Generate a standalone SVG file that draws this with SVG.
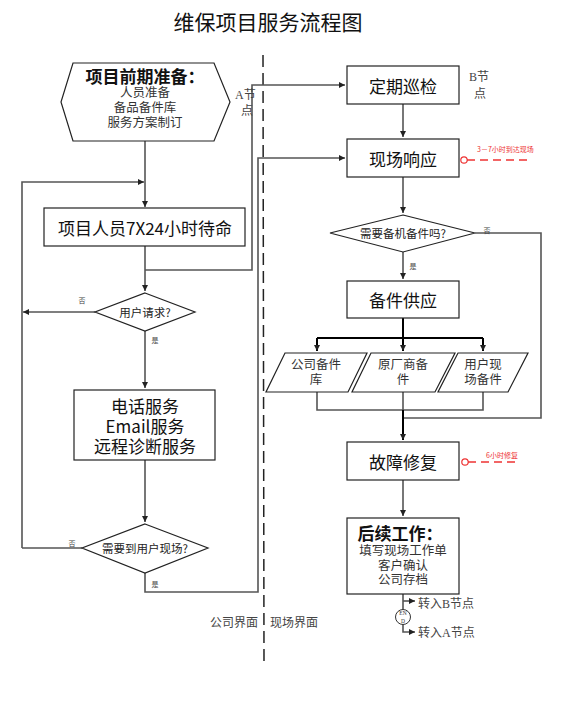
<svg xmlns="http://www.w3.org/2000/svg" width="563" height="719" viewBox="0 0 563 719">
<style>
.box{fill:#fff;stroke:#222;stroke-width:1.2}
.ln{fill:none;stroke:#555;stroke-width:1.6}
.lnb{fill:none;stroke:#000;stroke-width:2}
.big{font-family:"Noto Sans CJK SC","Liberation Sans",sans-serif;font-size:17px;fill:#111;text-anchor:middle;dominant-baseline:central}
.mid{font-family:"Liberation Serif","Noto Sans CJK SC",serif;font-size:12.5px;fill:#333;text-anchor:middle;dominant-baseline:central}
.dia{font-family:"Noto Sans CJK SC",sans-serif;font-size:11.5px;fill:#222;text-anchor:middle;dominant-baseline:central}
.sm{font-family:"Noto Sans CJK SC",sans-serif;font-size:7px;fill:#444;dominant-baseline:central}
.red{font-family:"Noto Sans CJK SC",sans-serif;font-size:7px;fill:#e33;dominant-baseline:central}
.note{font-family:"Liberation Serif","Noto Sans CJK SC",serif;font-size:12px;fill:#444;dominant-baseline:central}
</style>
<defs>
<marker id="ar" viewBox="0 0 8 8" refX="8" refY="4" markerWidth="6" markerHeight="6" markerUnits="userSpaceOnUse" orient="auto"><path d="M0,0 L8,4 L0,8 z" fill="#222"/></marker>
</defs>
<rect width="563" height="719" fill="#fff"/>
<text x="268" y="21" font-family="Noto Sans CJK SC,sans-serif" font-size="21" text-anchor="middle" dominant-baseline="central" fill="#111">维保项目服务流程图</text>

<line x1="263" y1="55" x2="264" y2="662" stroke="#222" stroke-width="1.5" stroke-dasharray="12,6"/>

<g id="connectors">
<path class="ln" d="M145,141 V207" marker-end="url(#ar)"/>
<path class="ln" d="M22,548 V182 H144" marker-end="url(#ar)"/>
<path class="ln" d="M145,246 V291" marker-end="url(#ar)"/>
<path class="ln" d="M145,270 H252 V85 H345" marker-end="url(#ar)"/>
<path class="ln" d="M95,312 H23" marker-end="url(#ar)"/>
<path class="ln" d="M145,331 V388" marker-end="url(#ar)"/>
<path class="ln" d="M145,460 V522" marker-end="url(#ar)"/>
<path class="ln" d="M82,548 H22"/>
<path class="ln" d="M145,573 V592 H258 V158 H345" marker-end="url(#ar)"/>
<path class="ln" d="M403,104 V137" marker-end="url(#ar)"/>
<path class="ln" d="M403,177 V213" marker-end="url(#ar)"/>
<path class="ln" d="M475,233 H541 V418 H403"/>
<path class="ln" d="M403,252 V279" marker-end="url(#ar)"/>
<path class="lnb" d="M403,318 V351"/>
<path class="lnb" d="M317,338 H483"/>
<path class="lnb" d="M317,338 V351" marker-end="url(#ar)"/>
<path class="lnb" d="M483,338 V351" marker-end="url(#ar)"/>
<path class="lnb" d="M403,338 V351" marker-end="url(#ar)"/>
<path class="ln" d="M317,392 V410 H483 V392"/>
<path class="ln" d="M403,392 V410"/>
<path class="lnb" d="M403,410 V440" marker-end="url(#ar)"/>
<path class="ln" d="M403,480 V516" marker-end="url(#ar)"/>
<path class="ln" d="M403,594 V610"/>
<path class="ln" d="M403,601 H415" marker-end="url(#ar)"/>
<path class="ln" d="M403,624 V632 H415" marker-end="url(#ar)"/>
<circle cx="464" cy="160" r="3.2" fill="#fff" stroke="#e33" stroke-width="1.2"/>
<line x1="467" y1="160" x2="532" y2="160" stroke="#e33" stroke-width="1.3" stroke-dasharray="8,5"/>
<circle cx="465" cy="462" r="3.2" fill="#fff" stroke="#e33" stroke-width="1.2"/>
<line x1="468" y1="462" x2="520" y2="462" stroke="#e33" stroke-width="1.3" stroke-dasharray="8,5"/>
<text class="sm" x="82" y="300" text-anchor="middle">否</text>
<text class="sm" x="155" y="340" text-anchor="middle">是</text>
<text class="sm" x="72" y="543" text-anchor="middle">否</text>
<text class="sm" x="155" y="584" text-anchor="middle">是</text>
<text class="sm" x="487" y="230" text-anchor="middle">否</text>
<text class="sm" x="413" y="266" text-anchor="middle">是</text>
<text class="red" x="477" y="149">3－7小时到达现场</text>
<text class="red" x="486" y="455">6小时修复</text>
</g>

<g id="prep">
<polygon class="box" points="73,63 214,63 230,102 214,141 73,141 61,102"/>
<text class="big" x="145" y="75" font-size="16" font-weight="bold">项目前期准备：</text>
<text class="mid" x="145" y="93">人员准备</text>
<text class="mid" x="145" y="108">备品备件库</text>
<text class="mid" x="145" y="123">服务方案制订</text>
</g>
<g id="nodeA"><text class="note" x="235" y="95">A节</text><text class="note" x="241" y="111">点</text></g>
<g id="standby">
<rect class="box" x="44" y="208" width="201" height="38"/>
<text class="big" x="145" y="227" font-size="18">项目人员7X24小时待命</text>
</g>
<g id="request">
<polygon class="box" points="145,293 195,312 145,331 95,312"/>
<text class="dia" x="145" y="312">用户请求?</text>
</g>
<g id="remote">
<rect class="box" x="74" y="390" width="141" height="70"/>
<text class="big" x="145" y="405" font-size="16.5"><tspan x="145" y="405">电话服务</tspan><tspan x="145" y="425">Email服务</tspan><tspan x="145" y="445">远程诊断服务</tspan></text>
</g>
<g id="onsite">
<polygon class="box" points="145,524 208,548 145,573 82,548"/>
<text class="dia" x="145" y="548">需要到用户现场?</text>
</g>
<g id="patrol">
<rect class="box" x="347" y="66" width="112" height="38"/>
<text class="big" x="403" y="85">定期巡检</text>
</g>
<g id="nodeB"><text class="note" x="469" y="77">B节</text><text class="note" x="474" y="94">点</text></g>
<g id="response">
<rect class="box" x="347" y="139" width="112" height="38"/>
<text class="big" x="403" y="158">现场响应</text>
</g>
<g id="needparts">
<polygon class="box" points="403,215 475,233 403,252 330,233"/>
<text class="dia" x="403" y="233">需要备机备件吗?</text>
</g>
<g id="supply">
<rect class="box" x="347" y="281" width="112" height="37"/>
<text class="big" x="403" y="299">备件供应</text>
</g>
<g id="p1">
<polygon class="box" points="285,353 367,353 348,392 266,392"/>
<text class="mid" x="316" y="365">公司备件</text>
<text class="mid" x="316" y="380">库</text>
</g>
<g id="p2">
<polygon class="box" points="371,353 455,353 435,392 352,392"/>
<text class="mid" x="403" y="365">原厂商备</text>
<text class="mid" x="403" y="380">件</text>
</g>
<g id="p3">
<polygon class="box" points="458,353 528,353 508,392 438,392"/>
<text class="mid" x="483" y="365">用户现</text>
<text class="mid" x="483" y="380">场备件</text>
</g>
<g id="repair">
<rect class="box" x="347" y="442" width="112" height="38"/>
<text class="big" x="403" y="461">故障修复</text>
</g>
<g id="follow">
<rect class="box" x="347" y="518" width="112" height="76"/>
<text class="big" x="400" y="532" font-size="16" font-weight="bold">后续工作：</text>
<text class="mid" x="403" y="551">填写现场工作单</text>
<text class="mid" x="403" y="566">客户确认</text>
<text class="mid" x="403" y="580">公司存档</text>
</g>
<g id="end">
<circle cx="403" cy="617" r="7.5" fill="#fff" stroke="#333" stroke-width="1"/>
<text x="403" y="613" font-family="Liberation Serif,serif" font-size="5.5" text-anchor="middle" dominant-baseline="central" fill="#333">EN</text>
<text x="403" y="620.5" font-family="Liberation Serif,serif" font-size="5.5" text-anchor="middle" dominant-baseline="central" fill="#333">D</text>
<text class="note" x="418" y="604">转入B节点</text>
<text class="note" x="418" y="633">转入A节点</text>
</g>
<g id="labels">
<text class="note" x="210" y="623">公司界面</text>
<text class="note" x="270" y="623">现场界面</text>
</g>
</svg>
